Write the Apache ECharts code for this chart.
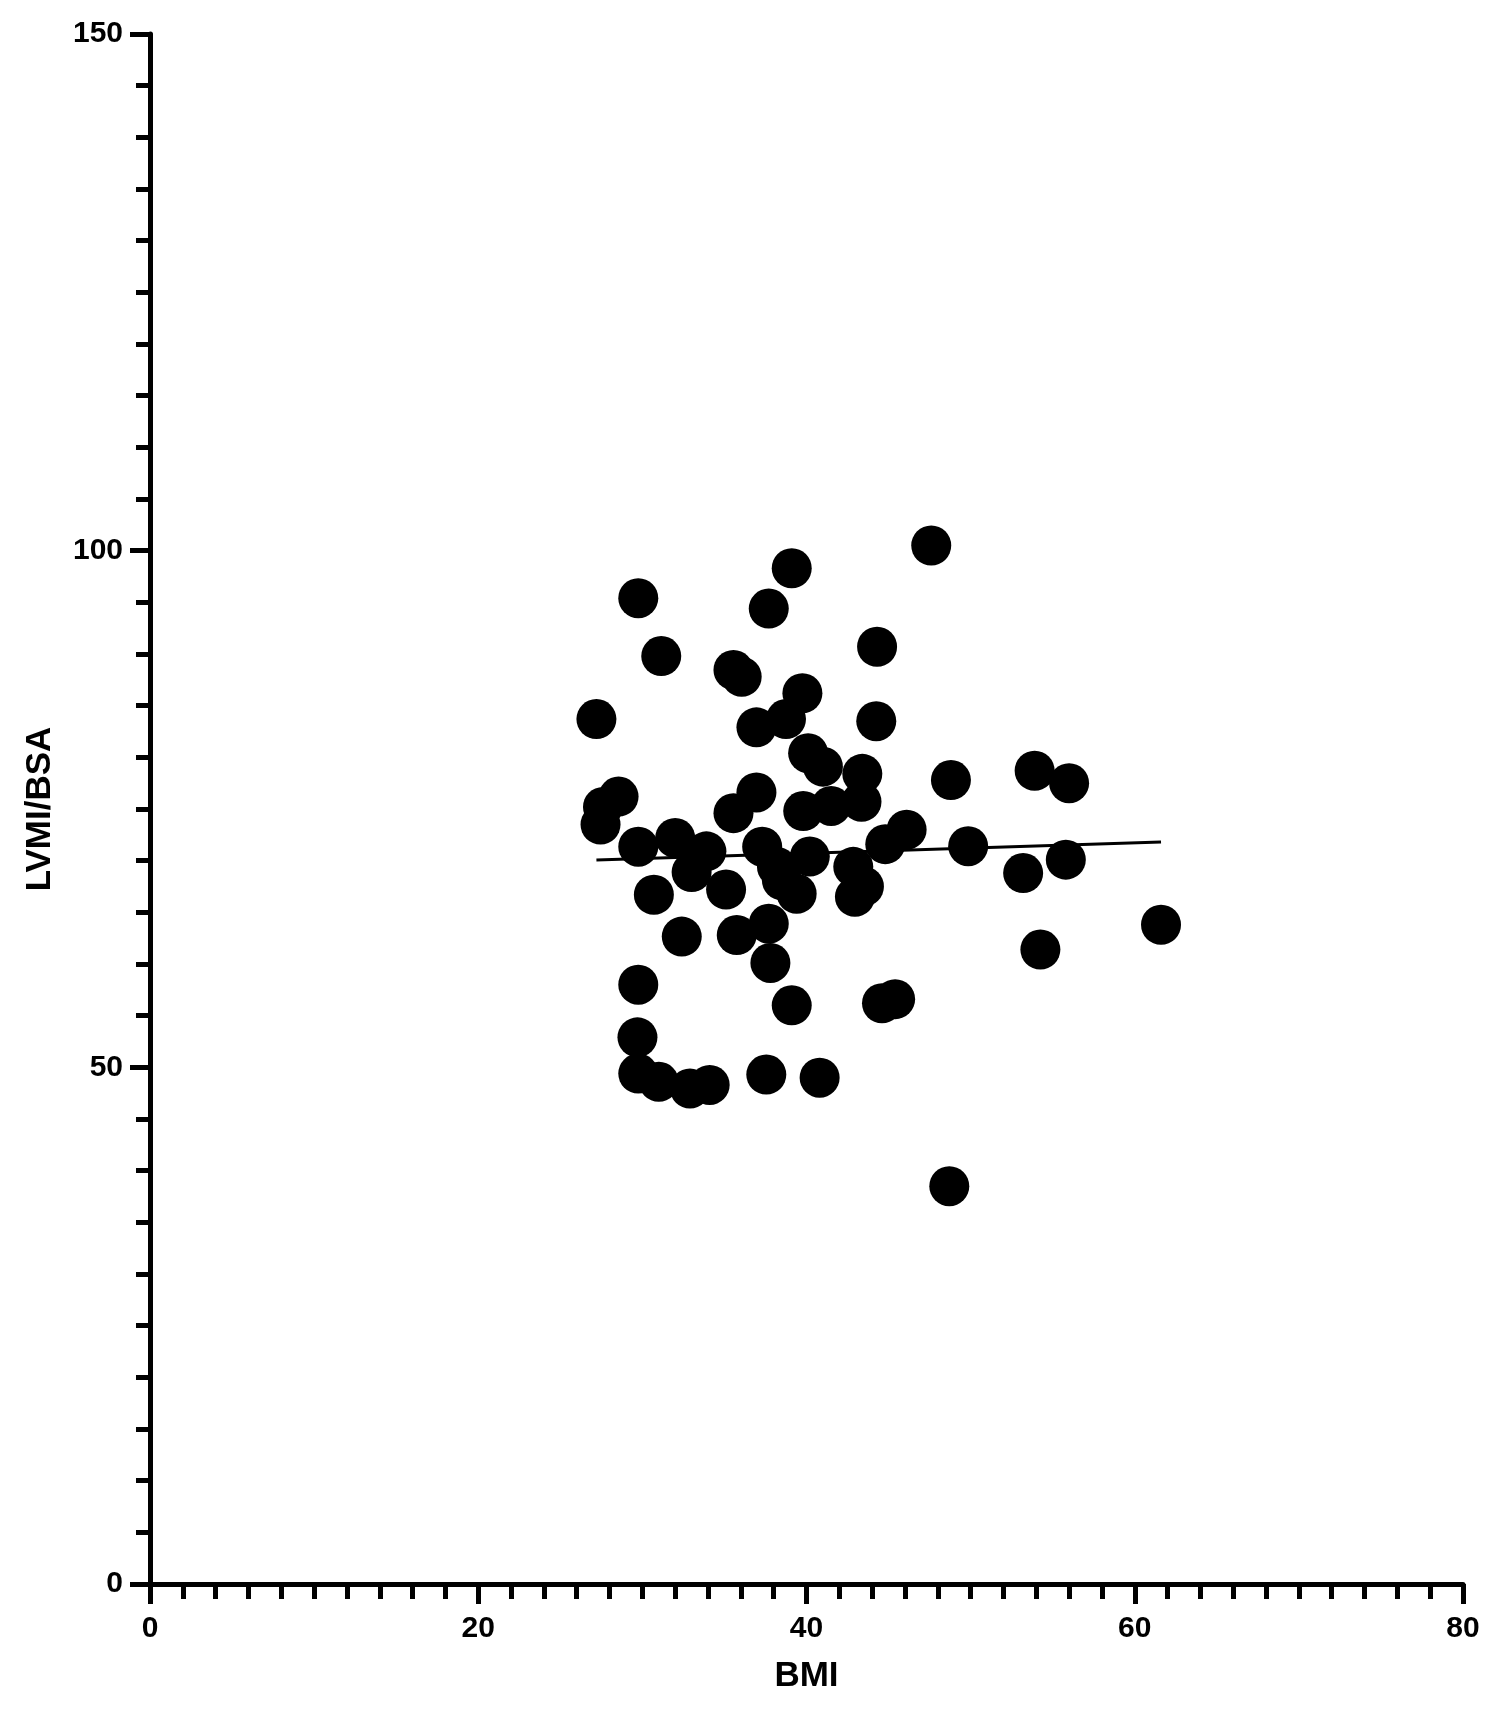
<!DOCTYPE html>
<html>
<head>
<meta charset="utf-8">
<script src="https://cdn.jsdelivr.net/npm/echarts@6/dist/echarts.min.js"></script>
<style>
	html, body { margin: 0; padding: 0; background: #fff; }
	#chart { width: 1495px; height: 1716px; }
</style>
</head>
<body>
<div id="chart"></div>
<script>
// BMI (x) 和 LVMI/BSA (y) 的散点
const bmi = [
	27.2, 29.75, 31.15, 35.55, 36.05, 39.1, 37.7, 47.6, 44.3, 39.75,
	38.75, 36.95, 44.25, 40.1, 41.0, 43.4, 48.8, 53.9, 56.0, 28.55,
	27.6, 27.45, 36.95, 35.55, 39.8, 41.5, 43.35, 46.1, 44.8, 49.85,
	29.75, 32.0, 33.9, 33.0, 35.1, 30.7, 37.3, 38.2, 38.5, 39.4,
	40.2, 42.85, 42.95, 43.5, 53.2, 55.8, 54.25, 61.6, 32.4, 35.75,
	37.7, 37.8, 29.75, 39.1, 44.6, 45.4, 29.7, 29.75, 31.0, 32.9,
	34.1, 37.55, 40.8, 48.7
];
const lvmi = [
	83.7, 95.4, 89.8, 88.45, 87.8, 98.3, 94.4, 100.5, 90.7, 86.2,
	83.7, 82.9, 83.5, 80.4, 79.1, 78.4, 77.8, 78.7, 77.5, 76.2,
	75.2, 73.5, 76.6, 74.6, 74.8, 75.3, 75.7, 73.0, 71.6, 71.4,
	71.35, 72.2, 70.9, 68.9, 67.2, 66.7, 71.35, 69.4, 68.1, 66.8,
	70.4, 69.4, 66.5, 67.5, 68.8, 70.1, 61.4, 63.8, 62.65, 62.8,
	63.9, 60.1, 58.0, 56.0, 56.2, 56.6, 52.9, 49.4, 48.6, 47.95,
	48.3, 49.3, 49.0, 38.5
];
// 回归线两端
const fitX = [27.2, 61.6];
const fitY = [70.07, 71.8];

const xTicks = [0, 20, 40, 60, 80];
const yTicks = [0, 50, 100, 150];

const font = '"Liberation Sans", Arial, sans-serif';

let myCharts = echarts.init(document.getElementById("chart"));

let axisCommon = {
	type: "value",
	nameLocation: "middle",
	nameTextStyle: {
		fontFamily: font,
		fontSize: 35,
		fontWeight: "bold",
		color: "#000",
	},
	axisLine: {
		show: true,
		lineStyle: { color: "#000", width: 5 },
	},
	axisTick: {
		show: true,
		length: 20,
		lineStyle: { color: "#000", width: 5 },
	},
	minorTick: {
		show: true,
		splitNumber: 10,
		lineStyle: { color: "#000", width: 5 },
	},
	axisLabel: {
		fontFamily: font,
		fontSize: 30,
		fontWeight: "bold",
		color: "#000",
	},
	splitLine: { show: false },
	minorSplitLine: { show: false },
};

let option = {
	animation: false,
	backgroundColor: "#fff",
	grid: {
		left: 150,
		right: 32,
		top: 34,
		bottom: 132,
	},
	xAxis: Object.assign({}, axisCommon, {
		name: "BMI",
		nameGap: 75,
		min: xTicks[0],
		max: xTicks[xTicks.length - 1],
		interval: 20,
		minorTick: Object.assign({}, axisCommon.minorTick, { length: 15 }),
		axisLabel: Object.assign({}, axisCommon.axisLabel, { margin: 30 }),
	}),
	yAxis: Object.assign({}, axisCommon, {
		name: "LVMI/BSA",
		nameGap: 92,
		nameRotate: 90,
		min: yTicks[0],
		max: yTicks[yTicks.length - 1],
		interval: 50,
		minorTick: Object.assign({}, axisCommon.minorTick, { length: 14 }),
		axisLabel: Object.assign({}, axisCommon.axisLabel, { margin: 27 }),
	}),
	series: [
		{
			type: "line",
			data: fitX.map((x, i) => [x, fitY[i]]),
			showSymbol: false,
			symbol: "none",
			lineStyle: { color: "#000", width: 3 },
			z: 1,
		},
		{
			type: "scatter",
			data: bmi.map((x, i) => [x, lvmi[i]]),
			symbol: "circle",
			symbolSize: 40,
			itemStyle: { color: "#000", opacity: 1 },
			z: 2,
		},
	],
};
myCharts.setOption(option);
</script>
</body>
</html>
